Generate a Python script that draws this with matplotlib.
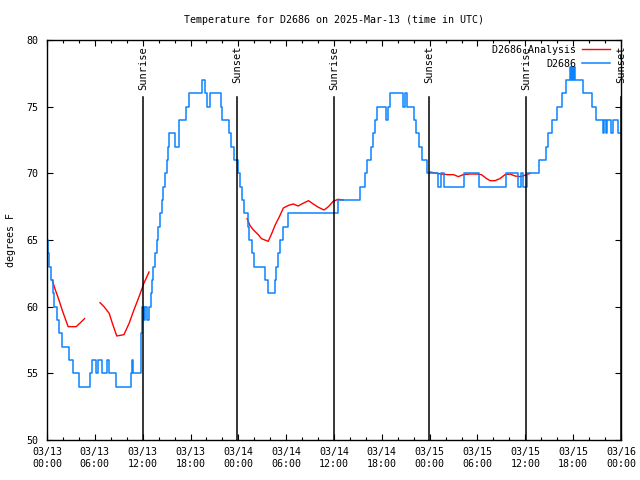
import numpy as np
import matplotlib
matplotlib.use("Agg")
import matplotlib.pyplot as plt
from matplotlib.ticker import MultipleLocator

# Observed D2686 temperature (hours since 03/13 00:00 UTC, degrees F), step changes
obs_t = [0.0, 0.15, 0.3, 0.5, 0.7, 0.9, 1.2, 1.45, 1.85, 2.7, 3.3, 4.0,
         5.45, 5.7, 6.2, 6.35, 6.9, 7.55, 7.75, 8.6, 10.55, 10.7, 10.85,
         11.8, 11.95, 12.15, 12.35, 12.6, 12.8, 13.0, 13.2, 13.35, 13.55,
         13.75, 13.95, 14.2, 14.4, 14.6, 14.85, 15.0, 15.15, 15.35, 16.05,
         16.6, 17.4, 17.8, 19.5, 19.8, 20.1, 20.5, 21.8, 22.0, 22.8, 23.1,
         23.5, 23.95, 24.2, 24.4, 24.65, 25.2, 25.4, 25.7, 26.0, 27.4, 27.7,
         28.55, 28.7, 28.95, 29.25, 29.55, 30.2, 36.5, 39.3, 39.9, 40.2,
         40.7, 40.95, 41.15, 41.45, 42.55, 42.75, 43.0, 44.6, 44.85, 45.2,
         46.0, 46.3, 46.7, 47.0, 47.7, 49.05, 49.45, 49.75, 52.35, 54.15,
         57.6, 59.05, 59.4, 59.7, 60.2, 61.75, 62.6, 62.85, 63.3, 64.0,
         64.6, 65.05, 65.55, 65.7, 65.8, 65.95, 66.05, 66.2, 67.2, 68.35,
         68.9, 69.7, 69.85, 70.1, 70.3, 70.8, 71.0, 71.6, 72.0]
obs_v = [65, 64, 63, 62, 61, 60, 59, 58, 57, 56, 55, 54,
         55, 56, 55, 56, 55, 56, 55, 54, 55, 56, 55,
         58, 60, 59, 60, 59, 60, 61, 62, 63, 64,
         65, 66, 67, 68, 69, 70, 71, 72, 73, 72,
         74, 75, 76, 77, 76, 75, 76, 75, 74, 73, 72,
         71, 70, 69, 68, 67, 66, 65, 64, 63, 62, 61,
         62, 63, 64, 65, 66, 67, 68, 69, 70, 71,
         72, 73, 74, 75, 74, 75, 76, 75, 76, 75,
         74, 73, 72, 71, 70, 69, 70, 69, 70, 69,
         70, 69, 70, 69, 70, 71, 72, 73, 74, 75,
         76, 77, 78, 77, 78, 77, 78, 77, 76, 75,
         74, 73, 74, 73, 74, 73, 74, 73, 73]

# Analysis series (NaN = gap)
ana_t = [0.65, 1.05, 1.5, 1.9, 2.35, 2.65, 3.65, 4.2, 4.7, np.nan,
         6.65, 7.15, 7.8, 8.2, 8.75, 9.65, 10.3, 10.9, 11.55, 12.15, 12.8, np.nan,
         25.1, 25.45, 25.9, 26.5, 26.9, 27.75, 28.2, 28.6, 29.15, 29.65, 30.3,
         30.9, 31.5, 31.95, 32.8, 33.4, 34.05, 34.75, 35.3, 35.9, 36.5, 37.2, np.nan,
         48.05, 48.9, 49.4, 50.3, 51.0, 51.6, 52.2, 53.05, 53.9, 54.5, 55.15,
         55.6, 56.2, 56.8, 57.45, 58.1, 58.7, 59.35, 59.95, 60.6]
ana_v = [62, 61.25, 60.5, 59.75, 59, 58.5, 58.5, 58.8, 59.1, np.nan,
         60.3, 60, 59.5, 58.75, 57.8, 57.9, 58.75, 59.75, 60.75, 61.75, 62.6, np.nan,
         66.6, 66.1, 65.75, 65.4, 65.1, 64.9, 65.5, 66.1, 66.75, 67.4, 67.6,
         67.7, 67.55, 67.7, 67.95, 67.7, 67.45, 67.25, 67.5, 67.9, 68.05, 68.0, np.nan,
         70.1, 70, 69.95, 69.9, 69.9, 69.75, 69.9, 69.95, 69.95, 69.9, 69.6,
         69.45, 69.45, 69.6, 69.9, 69.95, 69.8, 69.75, 69.85, 70.0]

sun_t = [12.05, 23.85, 36.05, 47.95, 60.1, 71.97]
sun_lbl = ["Sunrise", "Sunset", "Sunrise", "Sunset", "Sunrise", "Sunset"]

xtick_lbl = ["03/13\n00:00", "03/13\n06:00", "03/13\n12:00", "03/13\n18:00",
             "03/14\n00:00", "03/14\n06:00", "03/14\n12:00", "03/14\n18:00",
             "03/15\n00:00", "03/15\n06:00", "03/15\n12:00", "03/15\n18:00",
             "03/16\n00:00"]

plt.rcParams['font.family'] = ['DejaVu Sans Mono']
plt.rcParams['font.size'] = 7.2

fig = plt.figure(figsize=(6.4, 4.8), dpi=100)
ax = fig.add_axes([47 / 640, 40 / 480, 574 / 640, 400 / 480])

ax.plot(ana_t, ana_v, color='#ff0000', lw=1.0, label='D2686 Analysis')
ax.plot(obs_t, obs_v, color='#0a84ff', lw=1.1, drawstyle='steps-post', label='D2686')

for t, s in zip(sun_t, sun_lbl):
    ax.axvline(t, ymin=0, ymax=0.8575, color='black', lw=1.1)
    ax.text(t, 0.985, s, transform=ax.get_xaxis_transform(), rotation=90,
            ha='center', va='top', fontsize=7.5)

ax.set_xlim(0, 72)
ax.set_ylim(50, 80)
ax.set_xticks(np.arange(0, 73, 6))
ax.set_xticklabels(xtick_lbl)
ax.xaxis.set_minor_locator(MultipleLocator(2))
ax.set_yticks(np.arange(50, 81, 5))
ax.tick_params(which='both', direction='in', top=True, right=True)
ax.tick_params(which='major', length=4.5, width=0.8, pad=5)
ax.tick_params(which='minor', length=2.5, width=0.8)
ax.tick_params(axis='y', pad=6)
for sp in ax.spines.values():
    sp.set_linewidth(1.0)

ax.set_ylabel('degrees F', labelpad=8)
ax.set_title('Temperature for D2686 on 2025-Mar-13 (time in UTC)', pad=12, fontsize=7.2)

ax.legend(loc='upper right', frameon=False, markerfirst=False, handlelength=2.8,
          borderaxespad=0.1, labelspacing=0.4, handletextpad=0.6,
          bbox_to_anchor=(0.99, 1.0))

fig.savefig('out.png', dpi=100)
